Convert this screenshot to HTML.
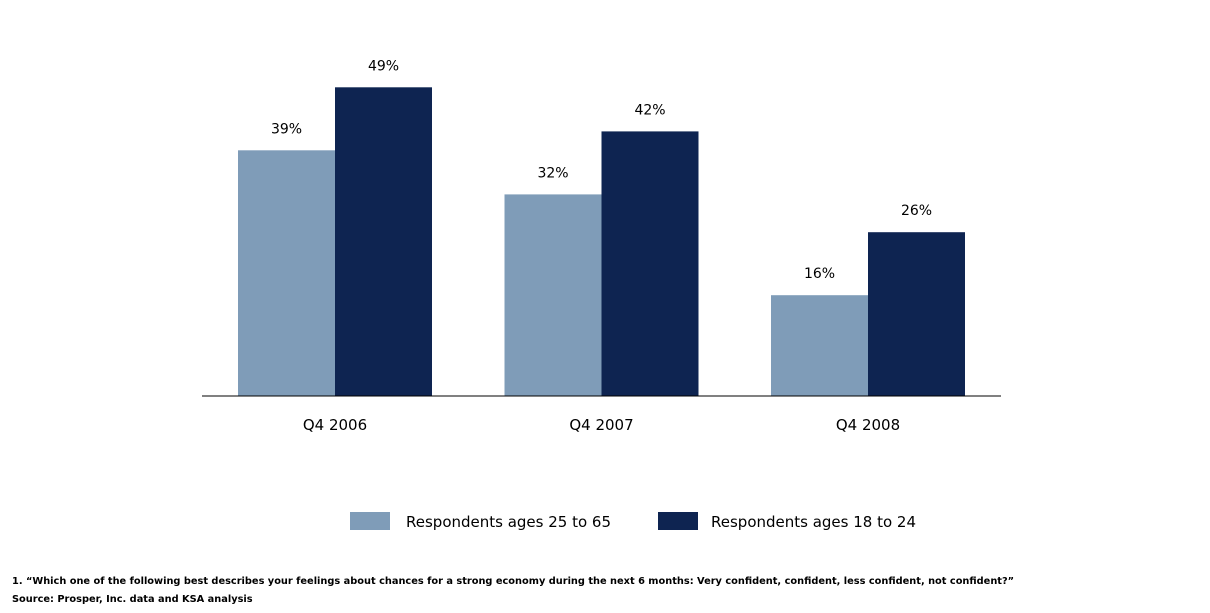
<!DOCTYPE html>
<html><head><meta charset="utf-8"><style>
body{margin:0;background:#fff;}
svg text{font-family:"DejaVu Sans","Liberation Sans",sans-serif;fill:#000;}
</style></head><body>
<svg width="1210" height="608">
<g id="bars"></g>
<line x1="202" y1="396" x2="1001" y2="396" stroke="#000" stroke-width="1"/>
<g>
<rect x="350" y="512" width="40" height="18" fill="#7f9cb8"/>
<text x="406" y="527" font-size="15">Respondents ages 25 to 65</text>
<rect x="658" y="512" width="40" height="18" fill="#0e2451"/>
<text x="711" y="527" font-size="15">Respondents ages 18 to 24</text>
</g>
<text x="12" y="584" font-size="9.8" font-weight="bold">1. “Which one of the following best describes your feelings about chances for a strong economy during the next 6 months: Very confident, confident, less confident, not confident?”</text>
<text x="12" y="602" font-size="9.8" font-weight="bold">Source: Prosper, Inc. data and KSA analysis</text>
</svg>
<script>
const categories=["Q4 2006","Q4 2007","Q4 2008"];
const olderValues=[39,32,16];
const youngerValues=[49,42,26];
const baseY=396, pxPer=6.3, barW=97, x0=335, step=266.5;
const ns="http://www.w3.org/2000/svg";
const g=document.getElementById('bars');
function y(v){return baseY-v*pxPer;}
function addBar(x,v,color,name){
  const r=document.createElementNS(ns,'rect');
  r.setAttribute('x',x);r.setAttribute('y',y(v));r.setAttribute('width',barW);r.setAttribute('height',v*pxPer);r.setAttribute('fill',color);
  
  
  g.appendChild(r);
  const t=document.createElementNS(ns,'text');
  t.setAttribute('x',x+barW/2);t.setAttribute('y',y(v)-17);t.setAttribute('text-anchor','middle');t.setAttribute('font-size','14');
  t.textContent=v+'%';
  
  
  g.appendChild(t);
}
categories.forEach((c,i)=>{
  const cx=x0+i*step;
  addBar(cx-barW,olderValues[i],'#7f9cb8','bar-25-65');
  addBar(cx,youngerValues[i],'#0e2451','bar-18-24');
  const t=document.createElementNS(ns,'text');
  t.setAttribute('x',cx);t.setAttribute('y',430);t.setAttribute('text-anchor','middle');t.setAttribute('font-size','15');
  t.textContent=c;
  
  
  g.appendChild(t);
});
</script>
</body></html>
